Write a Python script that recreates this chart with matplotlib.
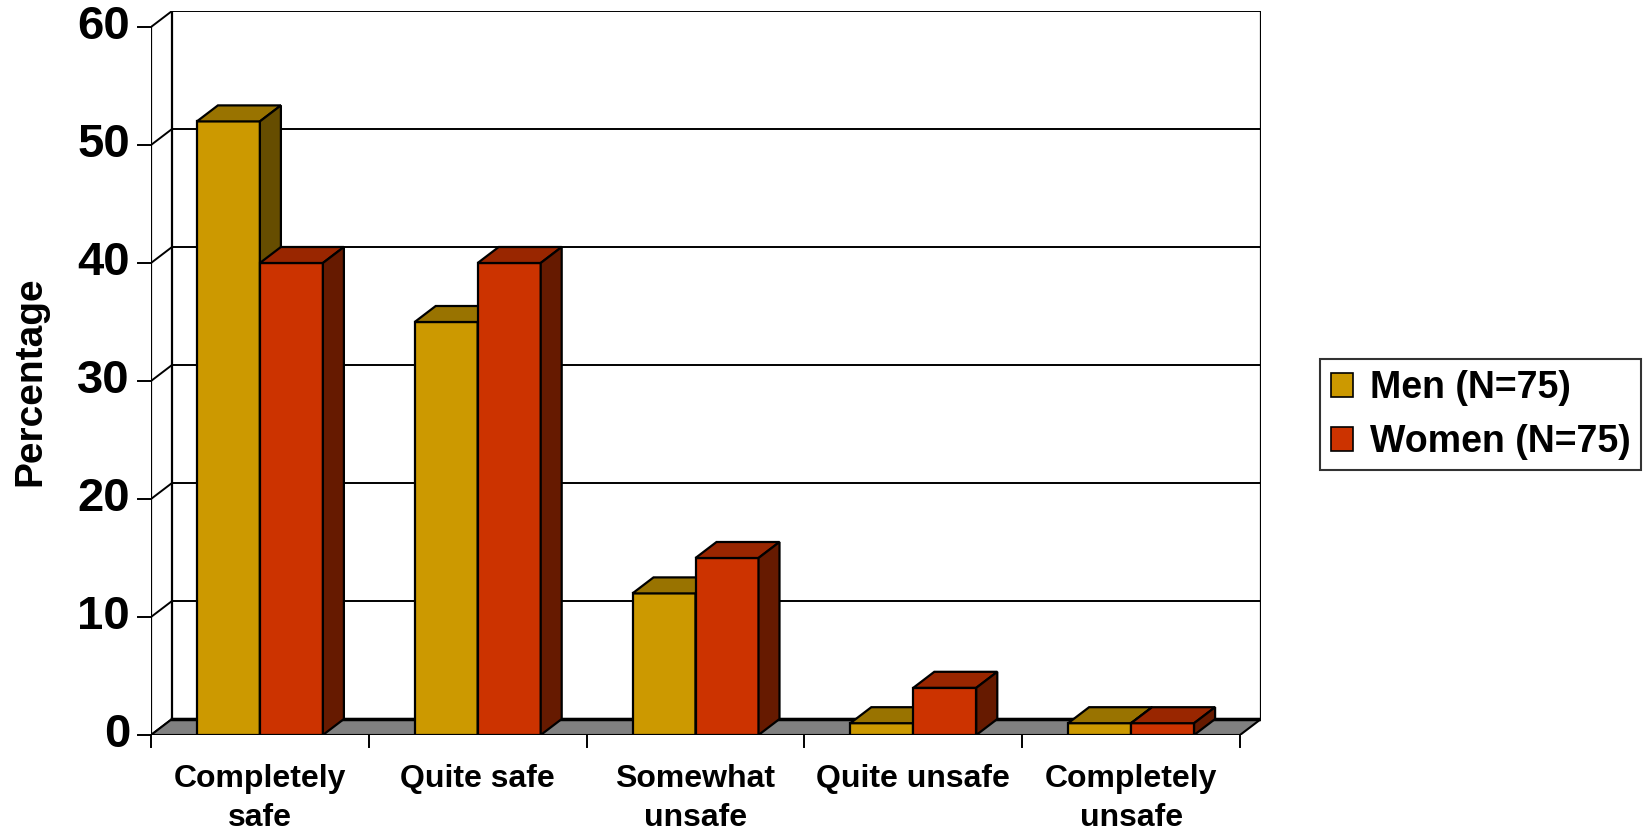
import matplotlib
matplotlib.use("Agg")
import matplotlib.pyplot as plt
from matplotlib.patches import Patch

plt.rcParams["font.family"] = ["Liberation Sans", "DejaVu Sans"]
plt.rcParams["font.weight"] = "bold"

categories = ["Completely\nsafe", "Quite safe", "Somewhat\nunsafe", "Quite unsafe", "Completely\nunsafe"]
men = [52, 35, 12, 1, 1]
women = [40, 40, 15, 4, 1]
series_labels = ["Men (N=75)", "Women (N=75)"]
y_ticks = [0, 10, 20, 30, 40, 50, 60]

# face colours: front, top, side
MEN_C = ("#CC9900", "#997300", "#664D00")
WOMEN_C = ("#CC3300", "#992600", "#661A00")
FLOOR_C = "#808080"

W, H = 1643, 832
# layout in pixels
X0_PX, Y0_PX = 151, 735          # front origin (from top-left)
CAT_PX = 217.8                   # width of one category
UNIT_PX = 11.8                   # pixels per percent
DX_PX, DY_PX = 21, 16            # depth offset

ncat = len(categories)
ymax = y_ticks[-1]
dx = DX_PX / CAT_PX
dy = DY_PX / UNIT_PX

fig = plt.figure(figsize=(W / 100, H / 100), dpi=100)
ax_w = (ncat + dx) * CAT_PX
ax_h = (ymax + dy) * UNIT_PX
ax = fig.add_axes([X0_PX / W, (H - Y0_PX) / H, ax_w / W, ax_h / H])
ax.set_xlim(0, ncat + dx)
ax.set_ylim(0, ymax + dy)
ax.axis("off")

LW = 1.6

# back wall gridlines and left wall connectors
for v in y_ticks:
    if v > 0:
        ax.plot([dx, ncat + dx], [v + dy, v + dy], color="black", lw=1.4, zorder=1)
    ax.plot([0, dx], [v, v + dy], color="black", lw=1.4, zorder=1)
    ax.plot([-13 / CAT_PX, 0], [v, v], color="black", lw=1.4, clip_on=False, zorder=1)
    ax.text(-21 / CAT_PX, v, str(v), ha="right", va="center", fontsize=34,
            fontweight="bold", clip_on=False)

ax.plot([0, 0], [0, ymax], color="black", lw=1.6, zorder=1)
ax.plot([dx, dx], [dy, ymax + dy], color="black", lw=1.6, zorder=1)
ax.plot([ncat + dx, ncat + dx], [dy, ymax + dy], color="black", lw=1.6, zorder=1)

# floor
ax.fill([0, ncat, ncat + dx, dx], [0, 0, dy, dy], facecolor=FLOOR_C,
        edgecolor="black", lw=1.5, zorder=2)
ax.plot([dx, ncat + dx], [dy, dy], color="black", lw=2.5, zorder=2)

# category ticks and labels
for i in range(ncat + 1):
    ax.plot([i, i], [0, -12 / UNIT_PX], color="black", lw=1.4, clip_on=False)
for i, lab in enumerate(categories):
    ax.text(i + 0.5, -29 / UNIT_PX, lab, ha="center", va="top", fontsize=23,
            fontweight="bold", linespacing=1.38, clip_on=False)

bw = 63 / CAT_PX


def bar3d(x0, v, cols):
    x1 = x0 + bw
    ax.fill([x0, x1, x1, x0], [0, 0, v, v], facecolor=cols[0],
            edgecolor="black", lw=LW, zorder=3)
    ax.fill([x0, x1, x1 + dx, x0 + dx], [v, v, v + dy, v + dy],
            facecolor=cols[1], edgecolor="black", lw=LW, zorder=3)
    ax.fill([x1, x1 + dx, x1 + dx, x1], [0, dy, v + dy, v],
            facecolor=cols[2], edgecolor="black", lw=LW, zorder=3)


for i in range(ncat):
    c = i + 0.5
    bar3d(c - bw, men[i], MEN_C)
    bar3d(c, women[i], WOMEN_C)

ax.text(-121 / CAT_PX, ymax / 2, "Percentage", rotation=90, ha="center",
        va="center", fontsize=28, fontweight="bold", clip_on=False)

handles = [Patch(facecolor=MEN_C[0], edgecolor="black", lw=1.2),
           Patch(facecolor=WOMEN_C[0], edgecolor="black", lw=1.2)]
leg = fig.legend(handles, series_labels, loc="center left",
                 bbox_to_anchor=(1320 / W, (H - 415) / H),
                 prop={"size": 27, "weight": "bold"},
                 frameon=True, fancybox=False, edgecolor="black",
                 handlelength=0.6, handleheight=0.6, handletextpad=0.45,
                 labelspacing=0.48, borderpad=0.28, borderaxespad=0)
leg.get_frame().set_linewidth(1.5)

fig.savefig("out.png", dpi=100)
